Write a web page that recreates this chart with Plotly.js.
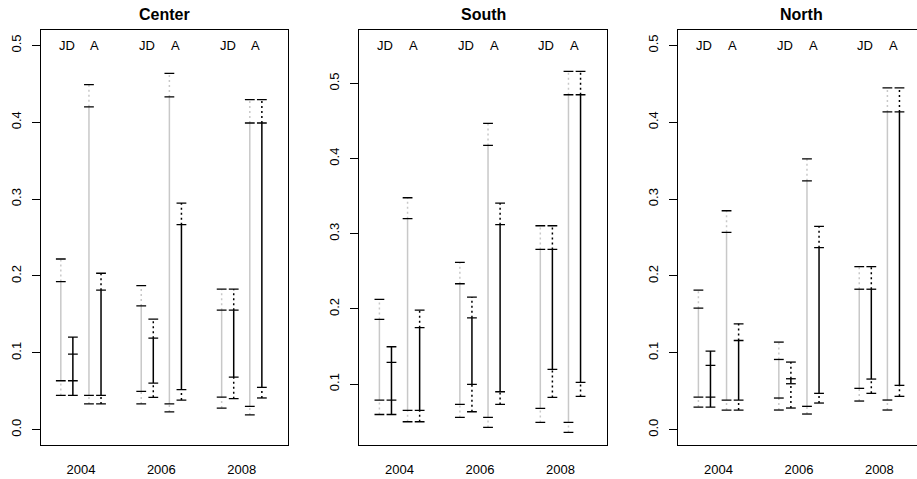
<!DOCTYPE html>
<html><head><meta charset="utf-8">
<script src="https://cdn.plot.ly/plotly-3.0.1.min.js"></script>
<style>html,body{margin:0;padding:0;overflow:hidden;background:#fff}#chart{width:930px;height:479px}</style>
</head><body><div id="chart"></div><script>
const years = [2004, 2006, 2008];
const regions = ['Center', 'South', 'North'];
const groupLabels = ['JD', 'A'];
const labelLevel = [0.5, 0.55, 0.5];
const yTicksCenter = [0, 0.1, 0.2, 0.3, 0.4, 0.5];
const yTicksSouth = [0.1, 0.2, 0.3, 0.4, 0.5];
const yTicksNorth = [0, 0.1, 0.2, 0.3, 0.4, 0.5];
// each entry per year: [dottedLo, solidLo, solidHi, dottedHi]
const centerGrayJD  = [[0.0445,0.0636,0.1926,0.222],[0.0334,0.0498,0.161,0.1874],[0.0281,0.0424,0.1554,0.1827]];
const centerBlackJD = [[0.0636,0.0445,0.1204,0.0983],[0.042,0.0606,0.119,0.1437],[0.0403,0.0684,0.1554,0.1827]];
const centerGrayA   = [[0.0334,0.0445,0.420,0.449],[0.023,0.0334,0.4329,0.4636],[0.0191,0.0303,0.399,0.4294]];
const centerBlackA  = [[0.0334,0.0445,0.1814,0.2035],[0.0385,0.052,0.2667,0.2948],[0.0412,0.055,0.399,0.4294]];
const southGrayJD   = [[0.0596,0.0787,0.186,0.2126],[0.0557,0.073,0.2335,0.2619],[0.049,0.0676,0.2792,0.3106]];
const southBlackJD  = [[0.0787,0.0596,0.1497,0.1288],[0.0632,0.0996,0.1882,0.2157],[0.0823,0.1195,0.2792,0.3106]];
const southGrayA    = [[0.0499,0.065,0.32,0.3479],[0.0424,0.0557,0.4175,0.4468],[0.0357,0.049,0.4849,0.516]];
const southBlackA   = [[0.0499,0.065,0.175,0.1984],[0.073,0.0898,0.312,0.3408],[0.0836,0.1022,0.4849,0.516]];
const northGrayJD   = [[0.0294,0.0424,0.158,0.1814],[0.0255,0.0411,0.0913,0.1139],[0.0372,0.0537,0.1827,0.2121]];
const northBlackJD  = [[0.0424,0.0294,0.1022,0.0835],[0.0281,0.0597,0.0662,0.0879],[0.0472,0.0658,0.1827,0.2121]];
const northGrayA    = [[0.0255,0.0385,0.2567,0.2848],[0.0203,0.0303,0.3238,0.3524],[0.0255,0.0385,0.4134,0.4446]];
const northBlackA   = [[0.0255,0.0385,0.116,0.1377],[0.0346,0.0472,0.2368,0.2645],[0.0433,0.0576,0.4134,0.4446]];

const GRAY = '#c8c8c8', BLACK = '#000000';
const FONT = 'Liberation Sans, Arial, sans-serif';
const panels = [
  {series:[centerGrayJD, centerBlackJD, centerGrayA, centerBlackA], yticks:yTicksCenter, yrange:[-0.02,0.52], dom:[40.7,288]},
  {series:[southGrayJD, southBlackJD, southGrayA, southBlackA], yticks:yTicksSouth, yrange:[0.019,0.571], dom:[359.3,606.7]},
  {series:[northGrayJD, northBlackJD, northGrayA, northBlackA], yticks:yTicksNorth, yrange:[-0.02,0.52], dom:[678.3,925.6]}
];
const offsets = [-0.5, -0.2, 0.2, 0.5];
const colors = [GRAY, BLACK, GRAY, BLACK];
const labelOffsets = [-0.35, 0.35];
const W = 930, H = 479;
const traces = [];
const annotations = [];
const layout = {width:W, height:H, margin:{l:0,r:0,t:0,b:0}, showlegend:false,
  paper_bgcolor:'#fff', plot_bgcolor:'#fff', font:{family:FONT, size:13, color:'#000'}};
panels.forEach((p, i) => {
  const sfx = i === 0 ? '' : String(i + 1);
  const xa = 'x' + sfx, ya = 'y' + sfx;
  p.series.forEach((ser, s) => {
    const dx = [], dy = [], sx = [], sy = [], cx = [], cy = [];
    ser.forEach((q, k) => {
      const x = years[k] + offsets[s];
      // dotted parts only where outside the solid part
      if (q[0] < q[1]) { dx.push(x, x, null); dy.push(q[0], q[1], null); }
      if (q[3] > q[2]) { dx.push(x, x, null); dy.push(q[2], q[3], null); }
      sx.push(x, x, null); sy.push(q[1], q[2], null);
      q.forEach(v => { cx.push(x); cy.push(v); });
    });
    traces.push({type:'scatter', mode:'lines', x:dx, y:dy, xaxis:xa, yaxis:ya, hoverinfo:'skip',
      line:{color:colors[s], width:1.5, dash:'2px,3px'}});
    traces.push({type:'scatter', mode:'lines', x:sx, y:sy, xaxis:xa, yaxis:ya, hoverinfo:'skip',
      line:{color:colors[s], width:1.5}});
    traces.push({type:'scatter', mode:'markers', x:cx, y:cy, xaxis:xa, yaxis:ya, hoverinfo:'skip',
      marker:{symbol:'line-ew', size:7, color:BLACK, line:{width:1.3, color:BLACK}}});
  });
  years.forEach(yr => {
    groupLabels.forEach((g, j) => {
      annotations.push({xref:xa, yref:ya, x:yr + labelOffsets[j], y:labelLevel[i], text:g,
        showarrow:false, xanchor:'center', yanchor:'middle', font:{family:FONT, size:13, color:'#000'}});
    });
  });
  const d0 = p.dom[0] / W, d1 = p.dom[1] / W;
  annotations.push({xref:'paper', yref:'paper', x:(d0 + d1) / 2, y:(H - 15) / H, text:'<b>' + regions[i] + '</b>',
    showarrow:false, xanchor:'center', yanchor:'middle', font:{family:FONT, size:16, color:'#000'}});
  layout['xaxis' + sfx] = {domain:[d0, d1], anchor:ya, range:[2003.0, 2009.15], tickvals:years,
    ticktext:years.map(String), ticks:'', showgrid:false, zeroline:false, showline:true, mirror:true,
    linecolor:'#000', linewidth:1, ticklabelstandoff:12, tickfont:{family:FONT, size:13, color:'#000'}};
  layout['yaxis' + sfx] = {domain:[34 / H, 449 / H], anchor:xa, range:p.yrange, tickvals:p.yticks,
    ticktext:p.yticks.map(v => v.toFixed(1)), ticks:'outside', ticklen:8, tickwidth:1, tickcolor:'#000',
    tickangle:-90, ticklabelstandoff:6, showgrid:false, zeroline:false, showline:true, mirror:true,
    linecolor:'#000', linewidth:1, tickfont:{family:FONT, size:13, color:'#000'}};
});
layout.annotations = annotations;
Plotly.newPlot('chart', traces, layout, {staticPlot:true, displayModeBar:false});
</script></body></html>
